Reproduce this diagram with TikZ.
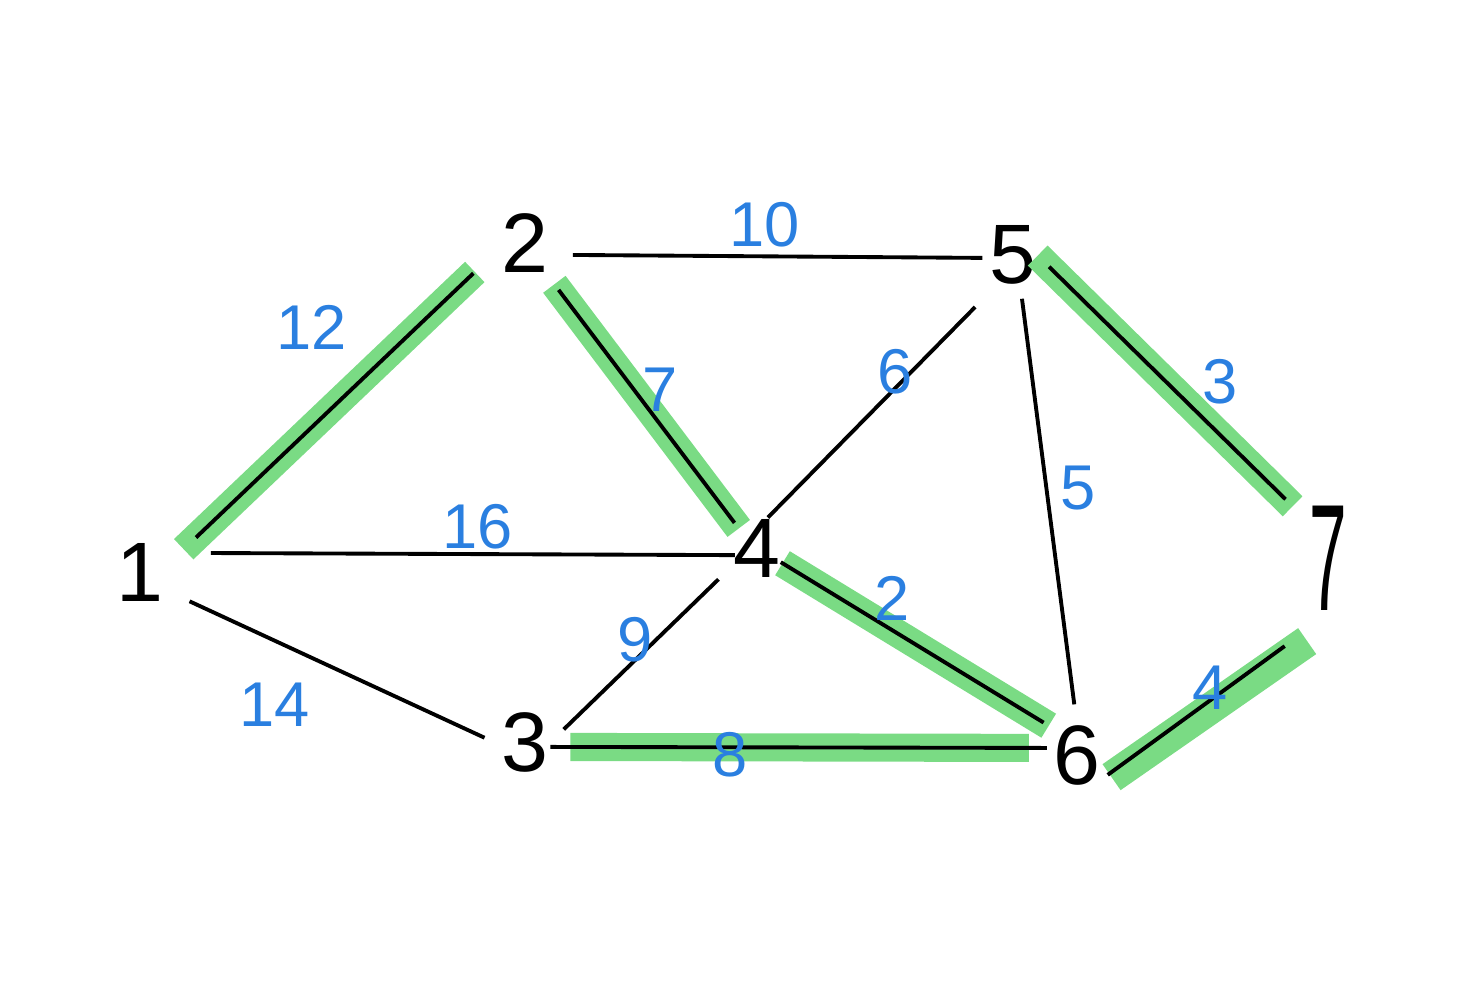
\documentclass[tikz,border=0pt]{standalone}
\usepackage{fontspec}
\setmainfont{Liberation Sans}
\usepackage{graphicx}
\usepackage{xcolor}
\definecolor{mstgreen}{HTML}{7ADB84}
\definecolor{weightblue}{HTML}{2A7FE0}

\tikzset{
  vertex/.style={circle, inner sep=0pt, minimum size=0.8cm, font=\fontsize{24}{24}\selectfont},
  edge/.style={line width=1.1pt, black},
  mst/.style={mstgreen, line width=8pt, line cap=butt},
  weight/.style={weightblue, font=\fontsize{18}{18}\selectfont}
}

\begin{document}
\begin{tikzpicture}
\useasboundingbox (0,0) rectangle (14.71,9.87);

% vertices
\node[vertex] (v1) at (1.40,4.15) {1};
\node[vertex] (v2) at (5.25,7.44) {2};
\node[vertex] (v3) at (5.25,2.45) {3};
\node[vertex] (v4) at (7.57,4.39) {4};
\node[vertex] (v5) at (10.13,7.32) {5};
\node[vertex] (v6) at (10.77,2.32) {6};
\node[vertex, minimum size=1.2cm] (v7) at (13.28,4.29) {\scalebox{0.8}[1.8]{7}};

% highlighted tree edges
\foreach \a/\b/\s/\t in {v1.24/v2.204/0.09/0.18, v2.-55/v4.131/0.10/-0.14,
    v4.-31/v6.134/-0.11/0, v5.-20/v7.124/-0.19/0.02}
  \draw[mst, shorten <=\s cm, shorten >=\t cm] (\a) -- (\b);
\draw[mst, line width=9pt, shorten <=0.01cm, shorten >=0.42cm] (v6.-34) -- (v7.-77);
\draw[mst, shorten <=0.05cm, shorten >=0.08cm, yshift=-0.03cm] (v3.-7) -- (v6.170);

% all edges
\foreach \a/\b/\s/\t in {v1.24/v2.204/0.26/0.20, v2.-17/v5.184/0.09/-0.10,
    v2.-55/v4.131/0.17/-0.07, v1.28/v4.190/0.35/-0.18, v1.-33/v3.174/0.17/0,
    v3.18/v4.218/0/0.09, v4.65/v5.239/-0.09/0.24, v5.-78/v6.92/0.04/0.10,
    v5.-20/v7.124/-0.03/0.12, v4.-31/v6.134/-0.13/0.06, v3.-7/v6.170/-0.15/-0.10,
    v6.-21/v7.265/-0.09/0.47}
  \draw[edge, shorten <=\s cm, shorten >=\t cm] (\a) -- (\b);

% weights
\node[weight] (w25) at (7.65,7.62) {10};
\node[weight] (w24) at (6.60,5.97) {7};
\node[weight] (w12) at (3.12,6.60) {12};
\node[weight] (w14) at (4.78,4.60) {16};
\node[weight] (w13) at (2.75,2.82) {14};
\node[weight] (w34) at (6.35,3.47) {9};
\node[weight] (w45) at (8.95,6.15) {6};
\node[weight] (w56) at (10.78,4.99) {5};
\node[weight] (w57) at (12.20,6.05) {3};
\node[weight] (w46) at (8.92,3.89) {2};
\node[weight] (w36) at (7.30,2.32) {8};
\node[weight] (w67) at (12.10,2.99) {4};
\end{tikzpicture}
\end{document}
